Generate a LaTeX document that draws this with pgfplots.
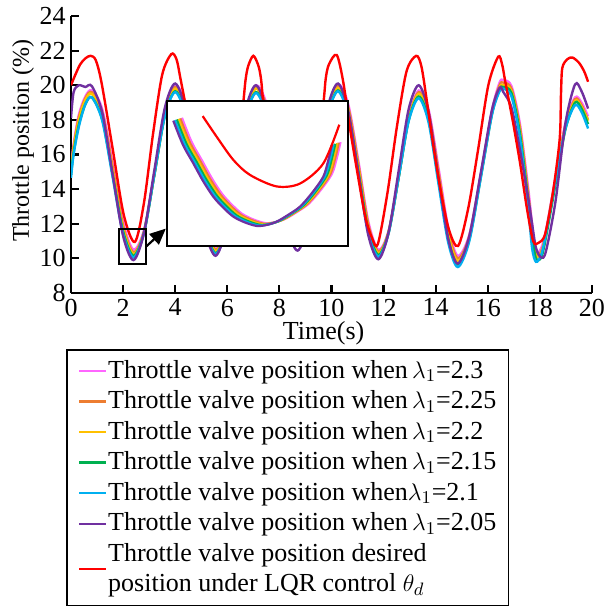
\documentclass[border=0pt]{standalone}
\usepackage{fontspec}
\setmainfont{Liberation Serif}
\usepackage{pgfplots}
\usepackage{pgfplotstable}
\pgfplotsset{compat=1.18}
\usetikzlibrary{arrows.meta}

\definecolor{cpk}{HTML}{FF66FF}
\definecolor{cor}{HTML}{ED7D31}
\definecolor{cye}{HTML}{FFC000}
\definecolor{cgr}{HTML}{00B050}
\definecolor{ccy}{HTML}{00B0F0}
\definecolor{cpu}{HTML}{7030A0}
\definecolor{crd}{HTML}{FF0000}

% lambda_1 = 2.3, 2.25, 2.2, 2.15, 2.1, 2.05
\pgfplotstableread{
t     pk    or    ye    gr    cy    pu
0     15.2  15.05 14.95 14.8  14.65 18.1
0.1   16.6  16.45 16.35 16.1  16.0  19.6
0.3   18.3  18.15 18.0  17.7  17.6  20.0
0.55  19.35 19.25 19.15 18.9  18.9  19.9
0.8   19.7  19.6  19.5  19.3  19.3  19.95
1.2   18.62 18.45 18.28 18.03 17.95 18.41
1.6   15.47 15.26 15.06 14.82 14.68 14.84
2.0   12.10 11.90 11.73 11.56 11.40 11.30
2.4   10.5  10.35 10.25 10.15 10.05 9.9
2.8   11.63 11.54 11.51 11.48 11.44 11.46
3.2   14.88 14.85 14.85 14.81 14.83 15.09
3.6   18.35 18.31 18.28 18.2  18.21 18.68
4.0   20.0  19.9  19.8  19.65 19.6  20.1
4.4   18.90 18.73 18.56 18.35 18.24 18.58
4.78  15.70 15.48 15.28 15.07 14.93 15.03
5.16  12.28 12.07 11.90 11.73 11.62 11.53
5.55  10.65 10.5  10.4  10.3  10.25 10.15
5.94  11.76 11.67 11.64 11.59 11.61 11.66
6.33  14.96 14.92 14.92 14.86 14.9  15.17
6.71  18.38 18.33 18.30 18.18 18.19 18.63
7.1   20.0  19.9  19.8  19.6  19.55 20.0
7.5   18.94 18.79 18.62 18.38 18.27 18.54
7.9   15.85 15.68 15.51 15.29 15.18 15.14
8.3   12.53 12.41 12.29 12.15 12.08 11.77
8.7   10.95 10.9  10.85 10.8  10.8  10.45
9.09  12.02 12.02 12.03 12.03 12.09 11.93
9.48  15.13 15.15 15.17 15.16 15.23 15.37
9.86  18.46 18.43 18.41 18.34 18.36 18.76
10.25 20.05 19.95 19.85 19.7  19.65 20.1
10.64 18.92 18.76 18.59 18.38 18.26 18.55
11.03 15.65 15.46 15.26 15.04 14.88 14.94
11.41 12.15 11.99 11.82 11.65 11.49 11.36
11.8  10.5  10.4  10.3  10.2  10.1  9.95
12.19 11.58 11.54 11.51 11.47 11.44 11.49
12.58 14.73 14.72 14.72 14.69 14.68 15.07
12.96 18.10 18.06 18.03 17.95 17.91 18.60
13.35 19.7  19.6  19.5  19.35 19.25 20.0
13.73 18.57 18.40 18.22 18.0  17.83 18.43
14.1  15.30 15.08 14.86 14.59 14.38 14.76
14.48 11.80 11.60 11.39 11.13 10.92 11.13
14.85 10.15 10.0  9.85  9.65  9.5   9.7
15.29 11.37 11.28 11.20 11.08 11.0  11.28
15.73 14.86 14.80 14.75 14.69 14.65 14.93
16.16 18.56 18.47 18.39 18.34 18.30 18.57
16.45 20.15 20.0  19.85 19.75 19.65 19.85
16.6  20.3  20.15 20.0  19.9  19.8  19.6
16.91 19.95 19.8  19.65 19.55 19.35 18.7
17.23 17.8  17.6  17.4  17.25 17.0  16.3
17.54 14.2  13.9  13.7  13.5  13.1  13.6
17.7  12.0  11.7  11.5  11.3  10.6  12.0
17.85 10.35 10.25 10.15 10.0  9.8   10.6
18.05 10.6  10.4  10.3  10.05 10.2  10.05
18.23 11.6  11.5  11.4  11.2  11.4  10.4
18.6  14.7  14.6  14.5  14.3  14.5  13.3
18.98 17.8  17.7  17.6  17.45 17.5  17.8
19.35 19.3  19.2  19.1  19.0  18.85 20.05
19.6  19.0  18.85 18.75 18.65 18.45 19.65
19.85 18.2  18.0  17.95 17.75 17.5  18.65
}\famdata

% desired position under LQR control
\pgfplotstableread{
t     rd
0     20.0
0.15  20.55
0.35  21.2
0.55  21.55
0.75  21.7
0.95  21.45
1.175 20.13
1.6   16.33
2.025 12.52
2.45  10.95
2.8   13.2
3.15  17.2
3.5   20.6
3.85  21.8
4.05  21.5
4.2   20.4
4.45  18.4
4.85  14.6
5.2   11.8
5.5   10.9
5.875 12.3
6.25  15.7
6.55  18.5
6.62  19.1
6.7   20.3
6.8   21.1
7.0   21.7
7.2   21.1
7.3   20.3
7.38  19.1
7.6   17.2
7.95  14.2
8.3   12.2
8.7   11.3
9.1   12.0
9.45  15.6
9.7   19.1
9.78  20.4
9.9   21.2
10.2  21.75
10.45 20.2
10.7  17.6
11.0  14.9
11.3  12.4
11.55 11.2
11.78 10.83
12.15 13.8
12.51 17.6
12.88 20.8
13.25 21.7
13.45 21.1
13.65 19.2
13.9  16.6
14.17 14.1
14.5  11.7
14.86 10.72
15.25 12.9
15.63 16.3
16.02 20.0
16.4  21.65
16.55 21.2
16.66 20.3
16.85 18.8
17.0  17.6
17.25 15.4
17.49 13.0
17.74 11.0
17.95 10.9
18.2  11.4
18.5  13.8
18.76 16.9
18.81 19.5
18.86 21.0
19.05 21.5
19.25 21.6
19.5  21.3
19.7  20.8
19.85 20.2
}\reddata

\begin{document}
\fontsize{13}{15}\selectfont
\begin{tikzpicture}
\path[use as bounding box] (0,0) rectangle (302.5pt,303.5pt);

\begin{axis}[
  at={(35.5pt,157pt)}, anchor=south west,
  scale only axis, width=260.5pt, height=138.5pt,
  xmin=0, xmax=20, ymin=8, ymax=24,
  xtick={0,2,...,20}, ytick={8,10,...,24},
  axis lines=left, axis line style={-, line width=1.1pt},
  tick style={line width=1.1pt, black}, major tick length=4pt,
  tick align=inside,
  /pgf/number format/assume math mode=true,
  xticklabel style={inner ysep=2.7pt},
  yticklabel style={inner xsep=2.5pt},
  xlabel={Time(s)}, ylabel={Throttle position (\%)},
  xlabel style={at={(axis description cs:0.485,-0.147)}, anchor=center},
  ylabel style={at={(axis description cs:-0.092,0.55)}, anchor=center,
    font=\fontsize{12}{14}\selectfont},
  legend style={at={(axis description cs:-0.0096,-0.202)}, anchor=north west,
    draw=black, line width=0.8pt, inner xsep=5.5pt, inner ysep=3pt, row sep=0pt,
    nodes={inner xsep=0.5pt, inner ysep=2.15pt, align=left}},
  legend cell align=left,
  legend image code/.code={\draw[#1] (0pt,0pt) -- (13.5pt,0pt);},
  every axis plot/.append style={line width=1.2pt, smooth},
]
\addplot[cpk] table[x=t,y=pk]{\famdata};
\addlegendentry{Throttle valve position when\,$\lambda_1$=2.3}
\addplot[cor] table[x=t,y=or]{\famdata};
\addlegendentry{Throttle valve position when\,$\lambda_1$=2.25}
\addplot[cye] table[x=t,y=ye]{\famdata};
\addlegendentry{Throttle valve position when\,$\lambda_1$=2.2}
\addplot[cgr] table[x=t,y=gr]{\famdata};
\addlegendentry{Throttle valve position when\,$\lambda_1$=2.15}
\addplot[ccy] table[x=t,y=cy]{\famdata};
\addlegendentry{Throttle valve position when$\lambda_1$=2.1}
\addplot[cpu] table[x=t,y=pu]{\famdata};
\addlegendentry{Throttle valve position when\,$\lambda_1$=2.05}
\addplot[crd] table[x=t,y=rd]{\reddata};
\addlegendentry{Throttle valve position desired\\position under LQR control $\theta_d$}

\draw[line width=1pt] (axis cs:1.84,9.68) rectangle (axis cs:2.88,11.7);
\draw[line width=1.1pt, -{Triangle[length=8pt,width=7pt]}]
  (axis cs:2.88,10.68) -- (axis cs:3.64,11.72);
\end{axis}

% magnified view of the first minimum
\begin{axis}[
  at={(83.5pt,180.5pt)}, anchor=south west,
  scale only axis, width=90.5pt, height=72.5pt,
  xmin=1.84, xmax=2.88, ymin=9.68, ymax=11.7,
  xtick=\empty, ytick=\empty,
  axis line style={line width=1.1pt},
  axis background/.style={fill=white},
  every axis plot/.append style={line width=1.1pt, smooth},
]
\addplot[cpk] coordinates {(1.926,11.466)(1.982,11.127)(2.041,10.872)(2.097,10.626)(2.156,10.407)(2.212,10.257)(2.271,10.129)(2.338,10.048)(2.406,9.999)(2.463,10.013)(2.520,10.059)(2.585,10.152)(2.654,10.268)(2.723,10.459)(2.788,10.686)(2.817,10.918)(2.837,11.127)};
\addplot[cor] coordinates {(1.916,11.458)(1.972,11.119)(2.031,10.864)(2.087,10.618)(2.146,10.399)(2.202,10.249)(2.261,10.121)(2.328,10.040)(2.396,9.991)(2.453,10.005)(2.510,10.051)(2.575,10.144)(2.644,10.260)(2.713,10.451)(2.778,10.678)(2.807,10.910)(2.827,11.119)};
\addplot[cye] coordinates {(1.906,11.450)(1.962,11.111)(2.021,10.856)(2.077,10.610)(2.136,10.391)(2.192,10.241)(2.251,10.113)(2.318,10.032)(2.386,9.983)(2.443,9.997)(2.500,10.043)(2.565,10.136)(2.634,10.252)(2.703,10.443)(2.768,10.670)(2.797,10.902)(2.817,11.111)};
\addplot[cgr] coordinates {(1.896,11.442)(1.952,11.103)(2.011,10.848)(2.067,10.602)(2.126,10.383)(2.182,10.233)(2.241,10.105)(2.308,10.024)(2.376,9.975)(2.433,9.989)(2.490,10.035)(2.555,10.128)(2.624,10.244)(2.693,10.435)(2.758,10.662)(2.787,10.894)(2.807,11.103)};
\addplot[ccy] coordinates {(1.886,11.434)(1.942,11.095)(2.001,10.840)(2.057,10.594)(2.116,10.375)(2.172,10.225)(2.231,10.097)(2.298,10.016)(2.366,9.967)(2.423,9.981)(2.480,10.027)(2.545,10.120)(2.614,10.236)(2.683,10.427)(2.748,10.654)(2.777,10.886)(2.797,11.095)};
\addplot[cpu] coordinates {(1.876,11.426)(1.932,11.087)(1.991,10.832)(2.047,10.586)(2.106,10.367)(2.162,10.217)(2.221,10.089)(2.288,10.008)(2.356,9.959)(2.413,9.973)(2.470,10.019)(2.535,10.112)(2.604,10.228)(2.673,10.419)(2.738,10.646)(2.767,10.878)(2.787,11.087)};
\addplot[crd] coordinates {(2.045,11.49)(2.126,11.20)(2.221,10.88)(2.317,10.67)(2.470,10.51)(2.604,10.55)(2.738,10.83)(2.830,11.37)};
\end{axis}
\end{tikzpicture}
\end{document}
